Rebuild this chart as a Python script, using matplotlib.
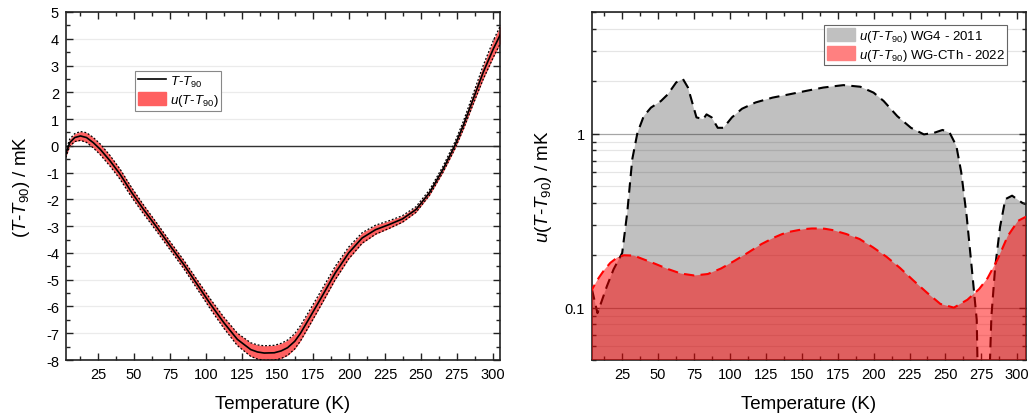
import matplotlib
matplotlib.use("Agg")
import matplotlib.pyplot as plt
import numpy as np
from matplotlib.lines import Line2D
from matplotlib.patches import Patch
from matplotlib.ticker import MultipleLocator, LogLocator, FixedLocator, FixedFormatter, NullFormatter

plt.rcParams['font.family'] = ['Liberation Sans', 'DejaVu Sans']
plt.rcParams['mathtext.fontset'] = 'custom'
plt.rcParams['mathtext.rm'] = 'Liberation Sans'
plt.rcParams['mathtext.it'] = 'Liberation Sans:italic'
plt.rcParams['mathtext.bf'] = 'Liberation Sans:bold'
plt.rcParams['axes.unicode_minus'] = False

# ---- data: T - T90 and u(T - T90) (WG-CTh 2022) ----
T_cth = [2.3, 5.1, 8.6, 12.6, 16.8, 21.5, 26.2, 33.2, 40.2, 48.4, 56.5, 65.9, 75.2, 84.6, 93.9,
         103.3, 112.6, 122, 131.3, 136, 140.7, 147.7, 152.5, 157, 162, 166, 171.5, 180.9, 190.2, 199.6,
         209, 218.4, 227.8, 237.1, 246.5, 255.9, 265.3, 273.5, 279.4, 286.4, 293.4, 300.5, 305.1, 307.5]
dT_cth = [-0.31, 0.12, 0.31, 0.37, 0.31, 0.12, -0.12, -0.56, -1.06, -1.75, -2.37, -3.05, -3.74, -4.43,
          -5.17, -5.92, -6.61, -7.23, -7.61, -7.70, -7.74, -7.73, -7.66, -7.54, -7.3, -7.0, -6.5, -5.63,
          -4.75, -4.0, -3.44, -3.13, -2.94, -2.73, -2.38, -1.75, -0.88, 0.0, 0.75, 1.75, 2.75, 3.63,
          4.13, 4.35]
u_cth = [0.12, 0.132, 0.148, 0.165, 0.181, 0.194, 0.2, 0.199, 0.189, 0.178, 0.167, 0.157, 0.153, 0.156,
         0.168, 0.186, 0.207, 0.232, 0.254, 0.264, 0.272, 0.279, 0.283, 0.285, 0.285, 0.284, 0.279,
         0.265, 0.248, 0.222, 0.196, 0.169, 0.143, 0.122, 0.105, 0.1, 0.111, 0.128, 0.148, 0.19, 0.258,
         0.315, 0.33, 0.336]

# ---- data: u(T - T90) WG4 2011 ----
T_wg4 = [4, 7.8, 14.4, 19, 25, 28.5, 32, 35.6, 40, 45, 52, 56.7, 62.6, 67.3, 70.8, 76.7, 81.4, 83.7,
         87.3, 91.5, 95.5, 101.4, 108.4, 117.8, 129.6, 141, 153, 165, 179, 190.7, 200, 207, 216.5, 226,
         235, 242, 248, 253, 257.6, 261, 264.8, 268.3, 271.8, 273.16, 279.5, 282, 284.6, 288, 291.7,
         296.4, 303.5, 307]
u_wg4 = [0.127, 0.093, 0.133, 0.166, 0.206, 0.351, 0.711, 1.01, 1.26, 1.41, 1.54, 1.68, 1.97, 2.06,
         1.84, 1.24, 1.21, 1.29, 1.24, 1.08, 1.08, 1.24, 1.39, 1.51, 1.61, 1.68, 1.76, 1.84, 1.9, 1.86,
         1.72, 1.54, 1.26, 1.08, 0.99, 1.01, 1.05, 1.01, 0.85, 0.6, 0.335, 0.17, 0.085, 0.02, 0.02,
         0.089, 0.17, 0.29, 0.42, 0.44, 0.4, 0.39]

x_ticks = [25, 50, 75, 100, 125, 150, 175, 200, 225, 250, 275, 300]
left_yticks = [-8, -7, -6, -5, -4, -3, -2, -1, 0, 1, 2, 3, 4, 5]

T_cth_a = np.array(T_cth)
dT_a = np.array(dT_cth)
u_a = np.array(u_cth)

fig = plt.figure(figsize=(10.33, 4.14), dpi=100)
axL = fig.add_axes([0.0639, 0.128, 0.420, 0.8406])
axR = fig.add_axes([0.5731, 0.128, 0.420, 0.8406])

tick_fs = 10.5
label_fs = 13.5

# ---------------- Left panel ----------------
for y in left_yticks:
    axL.axhline(y, color='#ebebeb', lw=0.9, zorder=0)
axL.axhline(0, color='#333333', lw=1.0, zorder=1)
axL.fill_between(T_cth_a, dT_a - u_a, dT_a + u_a, color='#ff6060', lw=0, zorder=2)
axL.plot(T_cth_a, dT_a + u_a, color='black', lw=0.9, ls=(0, (1.5, 1.5)), zorder=3)
axL.plot(T_cth_a, dT_a - u_a, color='black', lw=0.9, ls=(0, (1.5, 1.5)), zorder=3)
axL.plot(T_cth_a, dT_a, color='black', lw=1.2, zorder=4)
axL.set_xlim(2.5, 305)
axL.set_ylim(-8, 5)
axL.xaxis.set_major_locator(FixedLocator(x_ticks))
axL.xaxis.set_minor_locator(MultipleLocator(12.5))
axL.yaxis.set_major_locator(FixedLocator(left_yticks))
axL.yaxis.set_minor_locator(MultipleLocator(0.5))
axL.set_xlabel('Temperature (K)', fontsize=label_fs, labelpad=10)
axL.set_ylabel(r'($T$-$T_{\rm 90}$) / mK', fontsize=label_fs, labelpad=10)
legL = axL.legend(handles=[Line2D([], [], color='black', lw=1.2),
                           Patch(facecolor='#ff6060', edgecolor='#ff6060')],
                  labels=[r'$T$-$T_{\rm 90}$', r'$u$($T$-$T_{\rm 90}$)'],
                  loc='upper left', bbox_to_anchor=(0.16, 0.83), fontsize=9.5,
                  fancybox=False, framealpha=1, edgecolor='#888888', borderpad=0.2,
                  handlelength=2.1, handleheight=1.2, handletextpad=0.3, labelspacing=0.2,
                  borderaxespad=0)
legL.get_frame().set_linewidth(0.8)

# ---------------- Right panel ----------------
axR.set_yscale('log')
axR.fill_between(T_wg4, 1e-3, u_wg4, color='#c0c0c0', lw=0, zorder=1)
axR.plot(T_wg4, u_wg4, color='black', lw=1.5, ls=(0, (5, 3)), zorder=2)
axR.fill_between(T_cth, 1e-3, u_cth, color='#ff0000', alpha=0.5, lw=0, zorder=3)
axR.plot(T_cth, u_cth, color='#ff0000', lw=1.5, ls=(0, (5, 3)), zorder=4)
axR.set_xlim(4, 306)
axR.set_ylim(0.05, 5)
axR.xaxis.set_major_locator(FixedLocator(x_ticks))
axR.xaxis.set_minor_locator(MultipleLocator(12.5))
axR.yaxis.set_major_locator(FixedLocator([0.1, 1]))
axR.yaxis.set_major_formatter(FixedFormatter(['0.1', '1']))
axR.yaxis.set_minor_locator(LogLocator(base=10, subs=np.arange(2, 10)))
axR.yaxis.set_minor_formatter(NullFormatter())
axR.grid(True, which='major', axis='y', color='black', alpha=0.35, lw=0.9, zorder=5)
axR.grid(True, which='minor', axis='y', color='black', alpha=0.1, lw=0.9, zorder=5)
axR.set_axisbelow(False)
axR.set_xlabel('Temperature (K)', fontsize=label_fs, labelpad=10)
axR.set_ylabel(r'$u$($T$-$T_{\rm 90}$) / mK', fontsize=label_fs, labelpad=8)
legR = axR.legend(handles=[Patch(facecolor='#c0c0c0', edgecolor='#c0c0c0'),
                           Patch(facecolor='#ff8080', edgecolor='#ff8080')],
                  labels=[r'$u$($T$-$T_{\rm 90}$) WG4 - 2011', r'$u$($T$-$T_{\rm 90}$) WG-CTh - 2022'],
                  loc='upper right', bbox_to_anchor=(0.957, 0.963), fontsize=9.5,
                  fancybox=False, framealpha=1, edgecolor='#666666', borderpad=0.2,
                  handlelength=2.1, handleheight=1.2, handletextpad=0.3, labelspacing=0.2,
                  borderaxespad=0)
legR.get_frame().set_linewidth(0.8)
legR.set_zorder(10)

for ax in (axL, axR):
    ax.tick_params(which='both', direction='in', top=True, right=True, labelsize=tick_fs,
                   width=1.0, color='#222222')
    ax.tick_params(which='major', length=5, pad=5)
    ax.tick_params(which='minor', length=3)
    for s in ax.spines.values():
        s.set_linewidth(1.2)
        s.set_color('#222222')

fig.savefig('out.png', dpi=100)
